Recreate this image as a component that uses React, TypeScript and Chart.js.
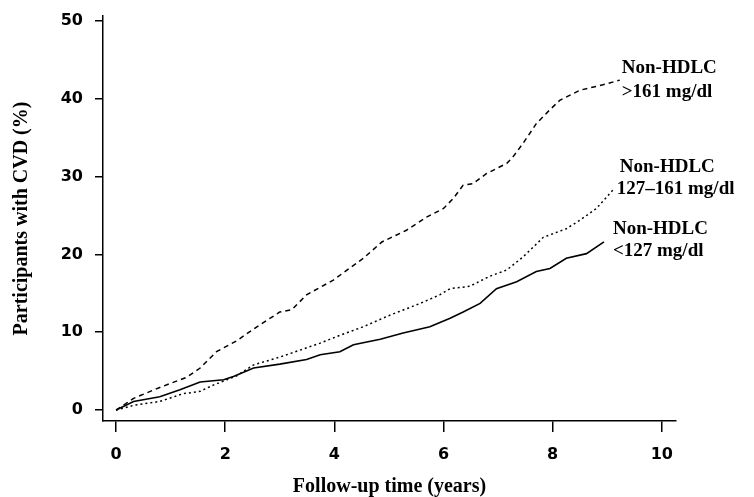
import { useEffect, useRef } from "react";
import { Chart, registerables } from "chart.js";

Chart.register(...registerables);

// ---- data ----
const xTicks = [0, 2, 4, 6, 8, 10];
const yTicks = [0, 10, 20, 30, 40, 50];

const highT = [0, 0.32, 0.8, 1.29, 1.54, 1.84, 2.21, 2.58, 3.0, 3.22, 3.49, 3.98, 4.53, 4.87, 5.32, 5.69, 6.0, 6.18, 6.36, 6.54, 6.79, 7.16, 7.28, 7.46, 7.7, 7.95, 8.13, 8.5, 8.92, 9.23];
const highV = [0, 1.5, 2.9, 4.2, 5.4, 7.5, 8.9, 10.7, 12.6, 12.9, 14.8, 16.7, 19.5, 21.6, 23.1, 24.8, 25.9, 27.2, 28.9, 29.1, 30.4, 31.7, 32.6, 34.3, 36.8, 38.6, 39.8, 41.1, 41.8, 42.4];

const midT = [0, 0.32, 0.8, 1.23, 1.54, 1.78, 2.03, 2.21, 2.52, 3.0, 3.37, 3.74, 4.1, 4.53, 5.02, 5.57, 5.93, 6.12, 6.48, 6.85, 7.16, 7.46, 7.83, 8.25, 8.5, 8.8, 9.12];
const midV = [0, 0.6, 1.1, 2.1, 2.4, 3.2, 3.9, 4.4, 5.8, 6.8, 7.7, 8.6, 9.6, 10.7, 12.2, 13.7, 14.8, 15.6, 15.9, 17.2, 18.0, 19.7, 22.2, 23.3, 24.4, 25.9, 28.4];

const lowT = [0, 0.32, 0.8, 1.17, 1.54, 1.97, 2.15, 2.52, 3.0, 3.49, 3.74, 4.1, 4.35, 4.84, 5.26, 5.75, 6.12, 6.36, 6.67, 6.97, 7.34, 7.7, 7.95, 8.25, 8.62, 8.94];
const lowV = [0, 1.1, 1.7, 2.6, 3.6, 3.9, 4.3, 5.4, 5.9, 6.5, 7.1, 7.5, 8.4, 9.1, 9.9, 10.7, 11.8, 12.6, 13.7, 15.6, 16.5, 17.8, 18.2, 19.5, 20.1, 21.6];

const seriesLabels = [
  ["Non-HDLC", ">161 mg/dl"],
  ["Non-HDLC", "127\u2013161 mg/dl"],
  ["Non-HDLC", "<127 mg/dl"],
];

const xTitle = "Follow-up time (years)";
const yTitle = "Participants with CVD (%)";

const toXY = (t: number[], v: number[]) => t.map((x, i) => ({ x, y: v[i] }));

// label offsets relative to each curve's end point: [dx, dy] for each line
const labelOffsets = [
  [[2, -7], [2, 17]],
  [[6, -17], [3, 5]],
  [[9, -8], [9, 14]],
];

const endLabelsPlugin = {
  id: "endLabels",
  afterDatasetsDraw(chart: any) {
    const ctx = chart.ctx;
    ctx.save();
    ctx.fillStyle = "#000";
    ctx.font = 'bold 19px "Liberation Serif", "Times New Roman", serif';
    ctx.textAlign = "left";
    ctx.textBaseline = "alphabetic";
    chart.data.datasets.forEach((_: any, i: number) => {
      const meta = chart.getDatasetMeta(i);
      const last = meta.data[meta.data.length - 1];
      if (!last) return;
      seriesLabels[i].forEach((line, j) => {
        const [dx, dy] = labelOffsets[i][j];
        ctx.fillText(line, last.x + dx, last.y + dy);
      });
    });
    ctx.restore();
  },
};

export default function App() {
  const ref = useRef<HTMLCanvasElement | null>(null);

  useEffect(() => {
    if (!ref.current) return;
    const tickFont = { family: '"DejaVu Sans", sans-serif', size: 16, weight: "bold" as const };
    const titleFont = { family: '"Liberation Serif", "Times New Roman", serif', size: 20, weight: "bold" as const, lineHeight: 1 };
    const chart = new Chart(ref.current, {
      type: "line",
      data: {
        datasets: [
          {
            label: seriesLabels[0].join(" "),
            data: toXY(highT, highV),
            borderColor: "#000",
            borderWidth: 1.5,
            borderDash: [5, 4],
            pointRadius: 0,
            tension: 0,
            fill: false,
          },
          {
            label: seriesLabels[1].join(" "),
            data: toXY(midT, midV),
            borderColor: "#000",
            borderWidth: 1.5,
            borderDash: [2, 3],
            pointRadius: 0,
            tension: 0,
            fill: false,
          },
          {
            label: seriesLabels[2].join(" "),
            data: toXY(lowT, lowV),
            borderColor: "#000",
            borderWidth: 1.6,
            pointRadius: 0,
            tension: 0,
            fill: false,
          },
        ],
      },
      options: {
        animation: false,
        responsive: false,
        layout: { padding: { top: 16, right: 78, left: 0, bottom: 0 } },
        plugins: {
          legend: { display: false },
          tooltip: { enabled: false },
        },
        scales: {
          x: {
            type: "linear",
            min: -0.24,
            max: 10.26,
            afterBuildTicks: (s: any) => {
              s.ticks = xTicks.map((v) => ({ value: v }));
            },
            afterFit: (s: any) => {
              s.height = 76;
              s.paddingLeft = 0;
              s.paddingRight = 0;
            },
            grid: { drawOnChartArea: false, drawTicks: true, tickLength: 11, color: "#000", lineWidth: 1.5 },
            border: { display: true, color: "#000", width: 1.5 },
            ticks: { color: "#000", font: tickFont, padding: 13, maxRotation: 0, autoSkip: false },
            title: { display: true, text: xTitle, color: "#000", font: titleFont, padding: { top: 0, bottom: 0 } },
          },
          y: {
            type: "linear",
            min: -1.41,
            max: 50.64,
            afterBuildTicks: (s: any) => {
              s.ticks = yTicks.map((v) => ({ value: v }));
            },
            afterFit: (s: any) => {
              s.width = 103;
              s.paddingTop = 0;
              s.paddingBottom = 0;
            },
            grid: { drawOnChartArea: false, drawTicks: true, tickLength: 8, color: "#000", lineWidth: 1.5 },
            border: { display: true, color: "#000", width: 1.5 },
            ticks: { color: "#000", font: tickFont, padding: 12, autoSkip: false },
            title: { display: true, text: yTitle, color: "#000", font: titleFont, padding: { top: 12, bottom: 0 } },
          },
        },
      },
      plugins: [endLabelsPlugin],
    });
    return () => chart.destroy();
  }, []);

  return (
    <div style={{ position: "absolute", left: 0, top: 0, width: 754, height: 497, background: "#fff" }}>
      <canvas ref={ref} width={754} height={497} style={{ display: "block" }} />
    </div>
  );
}
